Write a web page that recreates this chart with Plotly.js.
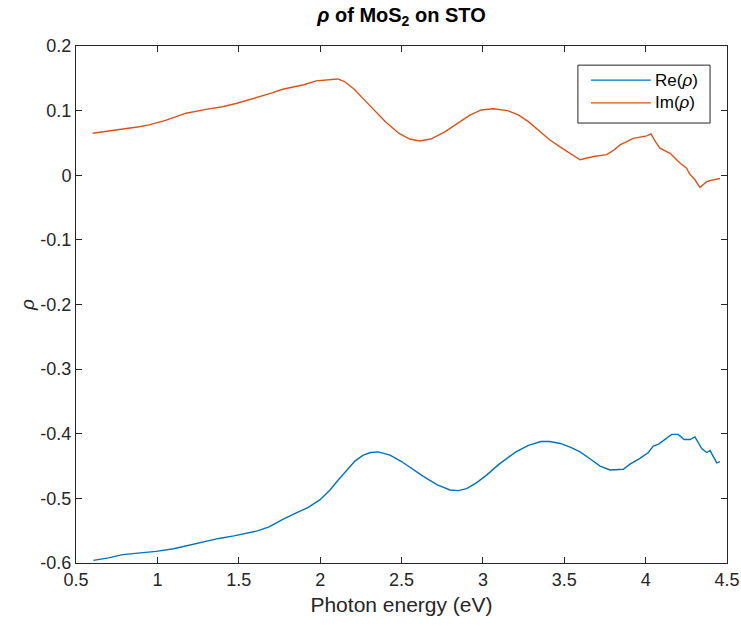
<!DOCTYPE html>
<html>
<head>
<meta charset="utf-8">
<script src="https://cdn.plot.ly/plotly-3.0.1.min.js"></script>
<style>html,body{margin:0;padding:0;background:#fff;}#chart{width:741px;height:631px;}</style>
</head>
<body>
<div id="chart"></div>
<script>
// Photon energy (eV) and Re(rho)
const reEnergy = [0.607,0.70,0.787,0.864,0.992,1.10,1.198,1.29,1.378,1.47,1.558,1.62,1.686,1.774,1.85,1.927,2.00,2.061,2.11,2.163,2.215,2.265,2.31,2.357,2.429,2.50,2.57,2.634,2.72,2.798,2.85,2.90,2.96,3.023,3.10,3.203,3.28,3.357,3.41,3.476,3.54,3.597,3.66,3.72,3.781,3.82,3.863,3.904,3.965,4.017,4.047,4.08,4.109,4.16,4.20,4.236,4.273,4.303,4.345,4.375,4.396,4.437,4.457];
const reRho = [-0.596,-0.592,-0.587,-0.585,-0.582,-0.578,-0.572,-0.567,-0.562,-0.558,-0.554,-0.550,-0.544,-0.532,-0.523,-0.514,-0.502,-0.487,-0.472,-0.456,-0.442,-0.433,-0.429,-0.428,-0.433,-0.443,-0.455,-0.466,-0.479,-0.487,-0.488,-0.485,-0.476,-0.464,-0.447,-0.428,-0.418,-0.412,-0.412,-0.415,-0.421,-0.428,-0.439,-0.450,-0.456,-0.456,-0.455,-0.447,-0.438,-0.429,-0.419,-0.416,-0.411,-0.401,-0.401,-0.409,-0.409,-0.405,-0.423,-0.429,-0.426,-0.445,-0.443];
// Photon energy (eV) and Im(rho)
const imEnergy = [0.602,0.70,0.80,0.889,0.95,1.05,1.176,1.30,1.40,1.483,1.60,1.70,1.77,1.85,1.90,1.975,2.04,2.108,2.15,2.21,2.27,2.329,2.40,2.483,2.55,2.612,2.68,2.766,2.84,2.920,2.99,3.062,3.152,3.22,3.28,3.351,3.41,3.474,3.54,3.597,3.68,3.76,3.80,3.843,3.924,4.007,4.033,4.06,4.088,4.15,4.211,4.252,4.27,4.303,4.334,4.375,4.40,4.457];
const imRho = [0.065,0.068,0.072,0.075,0.078,0.085,0.096,0.102,0.106,0.111,0.119,0.127,0.133,0.137,0.140,0.146,0.147,0.149,0.145,0.133,0.117,0.101,0.083,0.065,0.056,0.053,0.056,0.067,0.080,0.093,0.101,0.103,0.100,0.093,0.083,0.067,0.055,0.044,0.033,0.024,0.029,0.032,0.038,0.047,0.057,0.061,0.064,0.052,0.042,0.034,0.019,0.011,0.002,-0.007,-0.019,-0.010,-0.008,-0.005];
// Series names
const seriesNames = ['Re(<i>ρ</i>)', 'Im(<i>ρ</i>)'];
const seriesColors = ['#0072BD', '#D95319'];
// Tick labels
const xTickVals = [0.5,1,1.5,2,2.5,3,3.5,4,4.5];
const xTickText = ['0.5','1','1.5','2','2.5','3','3.5','4','4.5'];
const yTickVals = [0.2,0.1,0,-0.1,-0.2,-0.3,-0.4,-0.5,-0.6];
const yTickText = ['0.2','0.1','0','-0.1','-0.2','-0.3','-0.4','-0.5','-0.6'];

const font = 'Liberation Sans, Arial, Helvetica, sans-serif';
const axisColor = '#262626';

const traces = [
  {x: reEnergy, y: reRho, type: 'scatter', mode: 'lines', name: seriesNames[0],
   line: {color: seriesColors[0], width: 1.4}, showlegend: false},
  {x: imEnergy, y: imRho, type: 'scatter', mode: 'lines', name: seriesNames[1],
   line: {color: seriesColors[1], width: 1.4}, showlegend: false}
];

const axisCommon = {
  showgrid: false, zeroline: false, showline: true, mirror: 'ticks',
  linecolor: axisColor, linewidth: 1, ticks: 'inside', ticklen: 6,
  tickcolor: axisColor, tickwidth: 1,
  tickfont: {family: font, size: 18, color: axisColor}
};

// Legend box (MATLAB style) drawn in paper coordinates
const legendBox = {x0: 0.771, x1: 0.974, y0: 0.851, y1: 0.963};
const legendRows = [0.934, 0.890];
const shapes = [
  {type: 'rect', xref: 'paper', yref: 'paper', x0: legendBox.x0, x1: legendBox.x1,
   y0: legendBox.y0, y1: legendBox.y1, line: {color: axisColor, width: 1}, fillcolor: '#fff', layer: 'above'}
];
const annotations = [];
seriesNames.forEach((n, i) => {
  shapes.push({type: 'line', xref: 'paper', yref: 'paper', x0: 0.791, x1: 0.883,
    y0: legendRows[i], y1: legendRows[i], line: {color: seriesColors[i], width: 1.4}, layer: 'above'});
  annotations.push({xref: 'paper', yref: 'paper', x: 0.886, y: legendRows[i], xanchor: 'left', yanchor: 'middle',
    text: n, showarrow: false, font: {family: font, size: 17, color: '#000'}});
});

const layout = {
  width: 741, height: 631,
  paper_bgcolor: '#fff', plot_bgcolor: '#fff',
  margin: {l: 76, r: 14, t: 46, b: 68},
  showlegend: false,
  title: {text: '<b><i>ρ</i> of MoS<sub>2</sub> on STO</b>', font: {family: font, size: 20, color: '#000'},
          x: 0.5, xref: 'paper', y: 0.977, yref: 'container', yanchor: 'middle'},
  xaxis: Object.assign({}, axisCommon, {
    range: [0.5, 4.5], tickmode: 'array', tickvals: xTickVals, ticktext: xTickText,
    title: {text: 'Photon energy (eV)', font: {family: font, size: 21, color: axisColor}, standoff: 8}
  }),
  yaxis: Object.assign({}, axisCommon, {
    range: [-0.6, 0.2], tickmode: 'array', tickvals: yTickVals, ticktext: yTickText,
    title: {text: '<i>ρ</i>', font: {family: font, size: 19, color: axisColor}, standoff: 0}
  }),
  shapes: shapes,
  annotations: annotations
};

Plotly.newPlot('chart', traces, layout, {displayModeBar: false, staticPlot: true});
</script>
</body>
</html>
